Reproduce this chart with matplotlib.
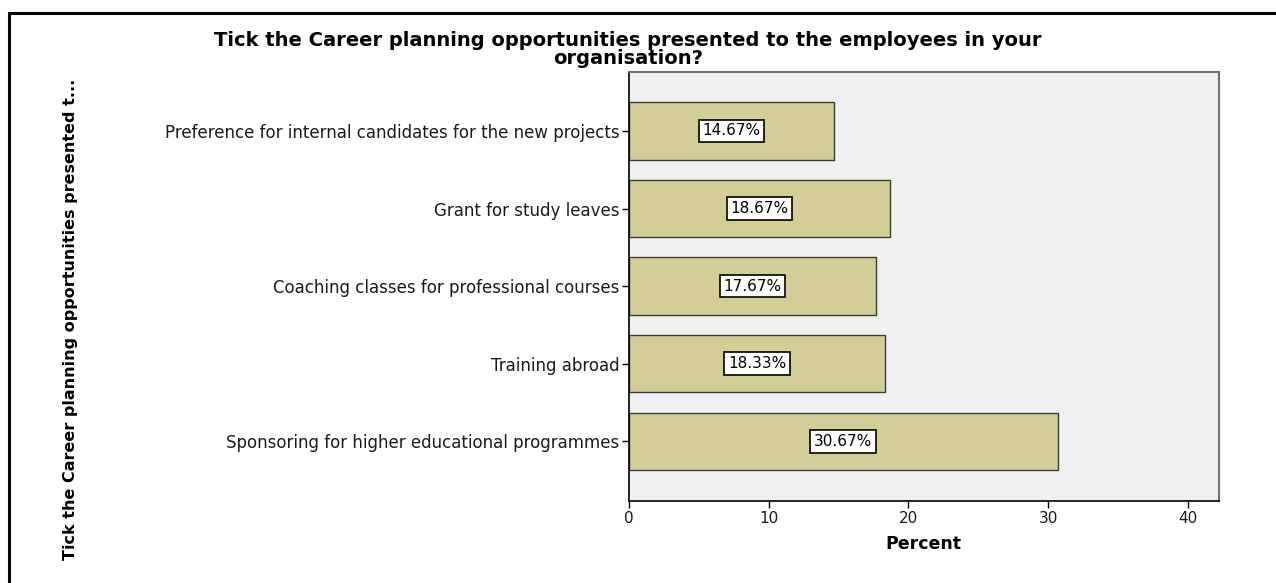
import matplotlib.pyplot as plt
from matplotlib.patches import Rectangle

categories = [
    "Preference for internal candidates for the new projects",
    "Grant for study leaves",
    "Coaching classes for professional courses",
    "Training abroad",
    "Sponsoring for higher educational programmes",
]
percent = [14.67, 18.67, 17.67, 18.33, 30.67]
xticks = [0, 10, 20, 30, 40]

plt.rcParams['font.family'] = ['DejaVu Sans']

fig = plt.figure(figsize=(12.76, 5.83), dpi=100)
ax = fig.add_axes([0.493, 0.1407, 0.462, 0.7358])
ax.set_facecolor("#f0f0f0")

pos = list(range(len(categories)))
ax.barh(pos, percent, height=0.74, color="#d3ce97", edgecolor="#3a3a3a", linewidth=1.0)

for y, v in zip(pos, percent):
    ax.text(v / 2, y, "%.2f%%" % v, ha="center", va="center", fontsize=11,
            bbox=dict(boxstyle="square,pad=0.25", fc="white", ec="black", lw=1.2))

ax.set_yticks(pos)
ax.set_yticklabels(categories, fontsize=12, color="#1a1a1a")
ax.set_ylim(4.77, -0.76)
ax.set_xlim(0, 42.2)
ax.set_xticks(xticks)
ax.set_xticklabels([str(t) for t in xticks], fontsize=11, color="#1a1a1a")
ax.tick_params(axis="both", direction="out", length=5, width=1, color="black", pad=2)

for side in ("left", "bottom"):
    ax.spines[side].set_color("black")
    ax.spines[side].set_linewidth(1.2)
for side in ("top", "right"):
    ax.spines[side].set_color("#707070")
    ax.spines[side].set_linewidth(1.5)

ax.set_xlabel("Percent", fontsize=12.5, fontweight="bold", labelpad=7)
fig.text(0.055, 0.453, "Tick the Career planning opportunities presented t...",
         rotation=90, ha="center", va="center", fontsize=11.5, fontweight="bold")

fig.text(0.492, 0.930, "Tick the Career planning opportunities presented to the employees in your",
         ha="center", va="center", fontsize=14, fontweight="bold")
fig.text(0.492, 0.900, "organisation?", ha="center", va="center",
         fontsize=14, fontweight="bold")

# frame round the whole output
fig.patches.append(Rectangle((9 / 1276, -0.02), 1.05, (583 - 13) / 583 + 0.02,
                             transform=fig.transFigure, fill=False,
                             edgecolor="black", linewidth=2.2))

fig.savefig("out.png", dpi=100)
